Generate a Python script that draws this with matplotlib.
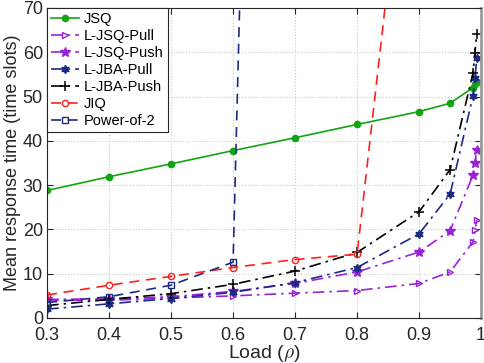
import matplotlib
matplotlib.use('Agg')
import matplotlib.pyplot as plt

plt.rcParams['font.family'] = ['Liberation Sans', 'DejaVu Sans']
plt.rcParams['mathtext.fontset'] = 'cm'

# load values
x_base = [0.3, 0.4, 0.5, 0.6, 0.7, 0.8, 0.9, 0.95]
x_tail = [0.987, 0.99, 0.993]

jsq = [28.8, 31.9, 34.8, 37.8, 40.7, 43.7, 46.6, 48.5, 52.0, 52.8, 53.4]
ljsq_pull = [4.0, 4.0, 4.5, 5.0, 5.6, 6.2, 7.8, 10.4, 17.2, 19.8, 22.2]
ljsq_push = [4.2, 4.3, 4.8, 6.0, 7.8, 10.4, 14.9, 19.7, 32.3, 35.0, 37.9]
ljba_pull = [2.0, 3.2, 4.4, 5.8, 8.0, 11.4, 19.0, 28.0, 50.2, 54.2, 58.6]
ljba_push = [2.8, 4.2, 5.5, 7.6, 10.6, 14.8, 24.0, 33.5, 55.4, 59.9, 64.2]
x_jiq = [0.3, 0.4, 0.5, 0.6, 0.7, 0.8, 0.9]
jiq = [5.2, 7.4, 9.4, 11.4, 13.2, 14.4, 138.0]
x_po2 = [0.3, 0.4, 0.5, 0.6, 0.7]
po2 = [3.5, 4.8, 7.4, 12.6, 560.0]

x_ticks = [0.3, 0.4, 0.5, 0.6, 0.7, 0.8, 0.9, 1]
x_ticklabels = ['0.3', '0.4', '0.5', '0.6', '0.7', '0.8', '0.9', '1']
y_ticks = [0, 10, 20, 30, 40, 50, 60, 70]

xs = x_base + x_tail

fig = plt.figure(figsize=(4.85, 3.63), dpi=100)
ax = fig.add_axes([0.097, 0.124, 0.895, 0.854])

green = '#13a313'
purple = '#9a22d6'
navy = '#1c2a82'
dashdot = (7, 3, 1.5, 3)

ax.plot(xs, jsq, '-', color=green, marker='o', ms=4.5, mfc=green, lw=1.2, label='JSQ')
ax.plot(xs, ljsq_pull, '-.', color=purple, marker='>', ms=5, mfc='none', lw=1.2, dashes=dashdot, label='L-JSQ-Pull')
ax.plot(xs, ljsq_push, '-.', color=purple, marker='*', ms=7.5, mfc=purple, lw=1.2, dashes=dashdot, label='L-JSQ-Push')
ax.plot(xs, ljba_pull, '-.', color=navy, marker=(6, 1, 0), ms=6, mfc=navy, lw=1.2, dashes=dashdot, label='L-JBA-Pull')
ax.plot(xs, ljba_push, '-.', color='black', marker='+', ms=6.5, mew=1.1, lw=1.2, dashes=dashdot, label='L-JBA-Push')
ax.plot(x_jiq, jiq, '--', color='#ff2020', marker='o', ms=4.5, mfc='none', lw=1.2, dashes=(6, 4), label='JIQ')
ax.plot(x_po2, po2, '--', color=navy, marker='s', ms=4.5, mfc='none', lw=1.2, dashes=(6, 4), label='Power-of-2')

ax.set_xlim(0.3, 1.0)
ax.set_ylim(0, 70)
ax.set_xticks(x_ticks)
ax.set_xticklabels(x_ticklabels)
ax.set_yticks(y_ticks)
ax.tick_params(direction='in', labelsize=13, length=4, colors='#262626', top=True, right=True)
ax.tick_params(axis='x', pad=6.5)
ax.tick_params(axis='y', pad=3)
ax.grid(True, linestyle=':', color='#c8c8c8', lw=0.8)

ax.set_xlabel(r'Load ($\rho$)', fontsize=14, labelpad=-1, color='#262626')
ax.set_ylabel('Mean response time (time slots)', fontsize=13, labelpad=1, color='#262626')

for s in ax.spines.values():
    s.set_color('#262626')
    s.set_linewidth(0.8)
ax.spines['right'].set_color('#9a9a9a')
ax.spines['right'].set_linewidth(2)

leg = ax.legend(loc='upper left', fontsize=10.5, fancybox=False, framealpha=1,
                edgecolor='#262626', borderaxespad=0, handlelength=1.9,
                handletextpad=0.3, labelspacing=0.2, borderpad=0.3)
leg.get_frame().set_linewidth(0.8)

fig.savefig('out.png', dpi=100)
